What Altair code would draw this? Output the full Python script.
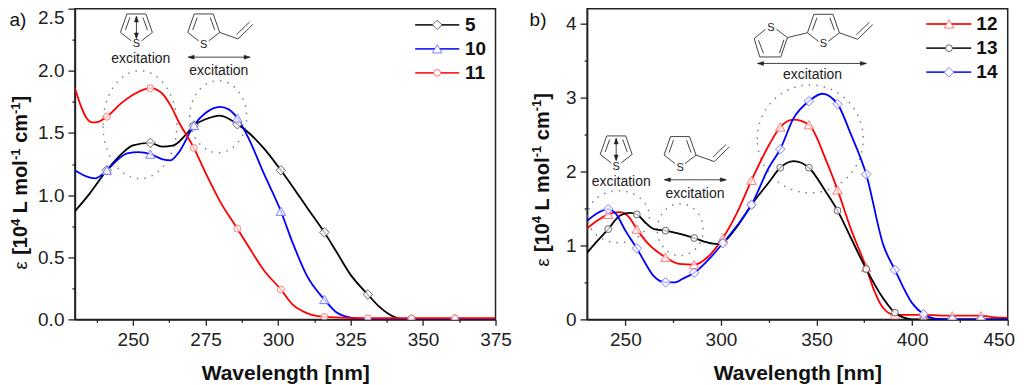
import altair as alt
import pandas as pd

FONT = "Liberation Sans"
INK = "#222222"
STRUCT = "#444444"

# ---------- panel a ----------
a_wl_5 = [230, 235, 241, 246, 250, 256, 260, 264, 268, 271, 275, 280, 286, 290, 295, 301, 305, 310, 316, 320, 325, 331, 335, 340, 343, 346, 361, 375]
a_v_5 = [0.87, 1.01, 1.20, 1.33, 1.40, 1.42, 1.39, 1.40, 1.48, 1.56, 1.61, 1.64, 1.57, 1.50, 1.38, 1.20, 1.07, 0.90, 0.70, 0.55, 0.36, 0.20, 0.10, 0.02, 0.0, 0.0, 0.0, 0.0]
a_wl_10 = [230, 233, 237, 241, 245, 248, 252, 256, 260, 263, 266, 271, 275, 280, 283, 286, 290, 295, 301, 305, 310, 316, 320, 325, 331, 346, 361, 375]
a_v_10 = [1.20, 1.16, 1.135, 1.20, 1.29, 1.335, 1.345, 1.33, 1.29, 1.28, 1.35, 1.56, 1.66, 1.71, 1.69, 1.62, 1.45, 1.18, 0.87, 0.62, 0.35, 0.16, 0.06, 0.015, 0.0, 0.0, 0.0, 0.0]
a_wl_11 = [230, 232, 234, 236, 238, 241, 246, 251, 256, 260, 263, 266, 271, 275, 280, 286, 290, 295, 301, 305, 310, 316, 331, 346, 361, 375]
a_v_11 = [1.86, 1.72, 1.62, 1.585, 1.59, 1.63, 1.74, 1.82, 1.86, 1.82, 1.72, 1.58, 1.38, 1.18, 0.95, 0.73, 0.58, 0.40, 0.24, 0.12, 0.05, 0.02, 0.01, 0.01, 0.01, 0.01]
a_markers = [241, 256, 271, 286, 301, 316, 331, 346, 361]

# ---------- panel b ----------
b_wl_12 = [230, 235, 241, 247, 252, 256, 262, 271, 278, 286, 293, 301, 308, 316, 325, 331, 338, 346, 355, 361, 368, 376, 380, 385, 391, 400, 406, 421, 436, 442, 450]
b_v_12 = [1.23, 1.33, 1.42, 1.45, 1.38, 1.22, 1.02, 0.84, 0.75, 0.74, 0.84, 1.10, 1.42, 1.88, 2.35, 2.60, 2.70, 2.63, 2.15, 1.75, 1.22, 0.70, 0.40, 0.15, 0.06, 0.06, 0.06, 0.05, 0.05, 0.03, 0.02]
b_wl_13 = [230, 235, 241, 247, 252, 256, 260, 265, 271, 278, 286, 293, 298, 301, 308, 316, 325, 331, 338, 346, 355, 361, 368, 376, 385, 391, 395, 400, 406, 421, 436, 450]
b_v_13 = [0.90, 1.05, 1.22, 1.40, 1.44, 1.42, 1.32, 1.22, 1.20, 1.16, 1.10, 1.04, 1.02, 1.04, 1.24, 1.55, 1.85, 2.05, 2.14, 2.05, 1.72, 1.47, 1.10, 0.68, 0.28, 0.09, 0.03, 0.0, 0.0, 0.0, 0.0, 0.0]
b_wl_14 = [230, 235, 241, 245, 250, 256, 260, 265, 271, 276, 280, 286, 295, 301, 310, 316, 325, 331, 338, 346, 353, 361, 368, 376, 385, 391, 400, 406, 412, 421, 436, 450]
b_v_14 = [1.33, 1.43, 1.49, 1.43, 1.20, 0.96, 0.78, 0.58, 0.50, 0.50, 0.55, 0.63, 0.85, 1.03, 1.32, 1.55, 2.05, 2.30, 2.72, 2.95, 3.05, 2.91, 2.50, 1.96, 1.00, 0.67, 0.22, 0.07, 0.01, 0.0, 0.0, 0.0]
b_markers = [241, 256, 271, 286, 301, 316, 331, 346, 361, 376, 391, 406, 421, 436]

LINE = {"black": "#000000", "blue": "#0000ff", "red": "#ff0000"}
EDGE = {"black": "#555555", "blue": "#7070ff", "red": "#ff6a6a"}

# y title pieces: text, pixels along the baseline from the title's start
TITLE_EPS = ("\u03b5", 0)
TITLE_MAIN = [("[10", 14.6), ("L mol", 56.3), ("cm", 126.8), ("]", 167.3)]
TITLE_SUP = [("4", 43.5), ("-1", 109.6), ("-1", 155.7)]

# ---------- structure outlines (pixel offsets from an anchor) ----------
THIOPHENE = ("M-5,11 L-16,2.5 L-9.5,-16 L9.5,-16 L16,2.5 L5,11 "
             "M-11,0 L-6.5,-12.5 M11,0 L6.5,-12.5")
ARROW_V = "M0,-13 L0,8"
ARROW_V_HEADS = "M0,-14 L-2,-8 L2,-8 Z M0,9 L-2,3 L2,3 Z"
VINYL = THIOPHENE + " M16,2.5 L34.3,9 L49.3,-5.7 M33,4.5 L46,-8"
BITHIO = (VINYL + " M-16,2.5 L-36,7.3 L-47,-1 M-58,-1 L-69.3,8.3 L-63.7,26.7 L-42.7,26.7 L-36,7.3 "
          "M-65,10 L-60,23 M-44,23 L-39.5,9.5")


def hline(half):
    return f"M{-half},0 L{half},0"


def hheads(half):
    return (f"M{-half},0 L{-half+6},-2 L{-half+6},2 Z "
            f"M{half},0 L{half-6},-2 L{half-6},2 Z")


def ellipse(rx, ry):
    return f"M{-rx},0 A{rx},{ry} 0 1 1 {rx},0 A{rx},{ry} 0 1 1 {-rx},0"


def panel(xdom, ydom, xvals, xmajor, xlast, yvals, ymajor, yfmt, ytop, series, legend,
          shapes, arrows, dots, texts, letters, tag, title):
    xs = alt.Scale(domain=xdom, nice=False, zero=False)
    ys = alt.Scale(domain=ydom, nice=False, zero=False)

    xaxis = alt.Axis(values=xvals, title="Wavelength [nm]", grid=False,
                     labelExpr=f"datum.value % {xmajor} == 0 ? format(datum.value, 'd') : ''",
                     tickSize={"condition": {"test": f"datum.value % {xmajor} == 0", "value": 6}, "value": 3},
                     labelOffset={"condition": {"test": f"datum.value == {xlast}", "value": -9}, "value": 0},
                     labelFont=FONT, labelFontSize=19, labelColor=INK, labelPadding=5,
                     titleFont=FONT, titleFontSize=21, titleFontWeight="bold", titleColor="#111111",
                     titlePadding=13, tickColor=INK, tickWidth=1.3, domainColor=INK, domainWidth=1.5,
                     labelOverlap=False, labelFlush=False, labelBound=False)
    yaxis = alt.Axis(values=yvals, title=None, grid=False,
                     labelExpr=f"datum.value % {ymajor} == 0 ? format(datum.value, '{yfmt}') : ''",
                     tickSize={"condition": {"test": f"datum.value % {ymajor} == 0", "value": 7}, "value": 3},
                     labelBaseline={"condition": {"test": f"datum.value == {ytop}", "value": "top"}, "value": "middle"},
                     labelFont=FONT, labelFontSize=19, labelColor=INK, labelPadding=4,
                     tickColor=INK, tickWidth=1.3, domainColor=INK, domainWidth=1.5,
                     labelOverlap=False, labelFlush=False, labelBound=False)

    def X():
        return alt.X("x:Q", scale=xs, axis=xaxis)

    def Y():
        return alt.Y("y:Q", scale=ys, axis=yaxis)

    layers = []
    for (cx, cy, rx, ry) in dots:
        layers.append(alt.Chart(pd.DataFrame({"x": [cx], "y": [cy]})).mark_point(
            shape=ellipse(rx, ry), size=4, filled=False, stroke="#808080", strokeWidth=1.5,
            strokeDash=[1.5, 6], opacity=1).encode(x=X(), y=Y()))
    for s in series:
        df = pd.DataFrame({"x": s["wl"], "y": s["v"]})
        layers.append(alt.Chart(df).mark_line(interpolate="monotone", clip=True, color=LINE[s["c"]],
                                              strokeWidth=1.8).encode(x=X(), y=Y()))
    for s in series:
        lookup = dict(zip(s["wl"], s["v"]))
        dm = pd.DataFrame({"x": s["m"], "y": [lookup[w] for w in s["m"]]})
        layers.append(alt.Chart(dm).mark_point(shape=s["shape"], size=s["size"], filled=False, clip=True,
                                               fill="#ffffff", fillOpacity=0.75, stroke=EDGE[s["c"]],
                                               strokeWidth=0.9, opacity=1).encode(x=X(), y=Y()))
    for (x1, x2, xm, xt, yy, s) in legend:
        dl = pd.DataFrame({"x": [x1, x2], "y": [yy, yy]})
        layers.append(alt.Chart(dl).mark_line(color=LINE[s["c"]], strokeWidth=1.8, opacity=0.85).encode(x=X(), y=Y()))
        layers.append(alt.Chart(pd.DataFrame({"x": [xm], "y": [yy]})).mark_point(
            shape=s["shape"], size=s["size"], filled=False, fill="#ffffff", fillOpacity=1,
            stroke=EDGE[s["c"]], strokeWidth=0.9, opacity=1).encode(x=X(), y=Y()))
        layers.append(alt.Chart(pd.DataFrame({"x": [xt], "y": [yy], "t": [s["name"]]})).mark_text(
            align="left", baseline="middle", font=FONT, fontSize=19, fontWeight="bold", color="#111111"
        ).encode(x=X(), y=Y(), text="t:N"))
    for (x0, y0, path) in shapes:
        layers.append(alt.Chart(pd.DataFrame({"x": [x0], "y": [y0]})).mark_point(
            shape=path, size=4, filled=False, stroke=STRUCT, strokeWidth=1, opacity=1).encode(x=X(), y=Y()))
    for (x0, y0, path) in arrows:
        layers.append(alt.Chart(pd.DataFrame({"x": [x0], "y": [y0]})).mark_point(
            shape=path, size=4, filled=True, fill="#222222", stroke="#222222", strokeWidth=0.5, opacity=1
        ).encode(x=X(), y=Y()))
    dt = pd.DataFrame(texts, columns=["x", "y", "t"])
    layers.append(alt.Chart(dt).mark_text(font=FONT, fontSize=14, color="#222222", baseline="middle",
                                          align="center").encode(x=X(), y=Y(), text="t:N"))
    dS = pd.DataFrame(letters, columns=["x", "y", "t"])
    layers.append(alt.Chart(dS).mark_text(font=FONT, fontSize=11, color="#222222", baseline="middle",
                                          align="center").encode(x=X(), y=Y(), text="t:N"))
    layers.append(alt.Chart(pd.DataFrame([tag], columns=["x", "y", "t"])).mark_text(
        font=FONT, fontSize=19, color="#111111", baseline="top", align="left").encode(x=X(), y=Y(), text="t:N"))
    # y title built from pieces so the exponents are real raised text
    bx, sx, y0, per_px = title
    eps = pd.DataFrame([{"x": bx, "y": y0, "t": TITLE_EPS[0]}])
    main = pd.DataFrame([{"x": bx, "y": y0 + o / per_px, "t": t} for t, o in TITLE_MAIN])
    sup = pd.DataFrame([{"x": sx, "y": y0 + o / per_px, "t": t} for t, o in TITLE_SUP])
    layers.append(alt.Chart(eps).mark_text(font=FONT, fontSize=18, color="#111111", baseline="alphabetic",
                                           align="left", angle=270).encode(x=X(), y=Y(), text="t:N"))
    layers.append(alt.Chart(main).mark_text(font=FONT, fontSize=20, fontWeight="bold", color="#111111",
                                            baseline="alphabetic", align="left", angle=270
                                            ).encode(x=X(), y=Y(), text="t:N"))
    layers.append(alt.Chart(sup).mark_text(font=FONT, fontSize=13, fontWeight="bold", color="#111111",
                                           baseline="alphabetic", align="left", angle=270
                                           ).encode(x=X(), y=Y(), text="t:N"))
    return alt.layer(*layers).properties(width=421, height=311)


s5 = dict(wl=a_wl_5, v=a_v_5, m=a_markers, c="black", shape="diamond", size=90, name="5")
s10 = dict(wl=a_wl_10, v=a_v_10, m=a_markers, c="blue", shape="triangle-up", size=90, name="10")
s11 = dict(wl=a_wl_11, v=a_v_11, m=a_markers, c="red", shape="circle", size=46, name="11")

s12 = dict(wl=b_wl_12, v=b_v_12, m=b_markers, c="red", shape="triangle-up", size=90, name="12")
s13 = dict(wl=b_wl_13, v=b_v_13, m=b_markers, c="black", shape="circle", size=46, name="13")
s14 = dict(wl=b_wl_14, v=b_v_14, m=b_markers, c="blue", shape="diamond", size=90, name="14")

left = panel(
    [230, 375], [0, 2.5],
    [237.5, 250, 262.5, 275, 287.5, 300, 312.5, 325, 337.5, 350, 362.5, 375], 25, 9999,
    [0, 0.25, 0.5, 0.75, 1, 1.25, 1.5, 1.75, 2, 2.25, 2.5], 0.5, ".1f", 2.5,
    [s5, s10, s11],
    [(347.3, 362.5, 354.9, 364.5, 2.37, s5),
     (347.3, 362.5, 354.9, 364.5, 2.177, s10),
     (347.3, 362.5, 354.9, 364.5, 1.984, s11)],
    [(251.2, 2.329, THIOPHENE), (251.2, 2.329, ARROW_V), (274.4, 2.329, VINYL), (279.7, 2.110, hline(31))],
    [(251.2, 2.329, ARROW_V_HEADS), (279.7, 2.110, hheads(31))],
    [(252.4, 1.566, 37, 54), (279.4, 1.631, 28.5, 36)],
    [(252.7, 2.098, "excitation"), (279.6, 2.002, "excitation")],
    [(251.2, 2.214, "S"), (274.4, 2.208, "S")],
    (207.4, 2.48, "a)"),
    (213.5, 211.0, 0.402, 124.5),
)

right = panel(
    [230, 450], [0, 4.2],
    [250, 275, 300, 325, 350, 375, 400, 425, 450], 50, 450,
    [0, 0.5, 1, 1.5, 2, 2.5, 3, 3.5, 4], 1, "d", 99,
    [s12, s13, s14],
    [(407.4, 430.9, 419.3, 433.6, 3.993, s12),
     (407.4, 430.9, 419.3, 433.6, 3.666, s13),
     (407.4, 430.9, 419.3, 433.6, 3.342, s14)],
    [(245.2, 2.264, THIOPHENE), (245.2, 2.264, ARROW_V), (278.6, 2.255, VINYL), (286.6, 1.887, hline(31)),
     (353.6, 3.908, BITHIO), (347.6, 3.460, hline(54.5))],
    [(245.2, 2.264, ARROW_V_HEADS), (286.6, 1.887, hheads(31)), (347.6, 3.460, hheads(54.5))],
    [(346.7, 2.439, 53, 54), (246.4, 1.388, 31, 26), (278.7, 1.213, 23, 26)],
    [(247.8, 1.855, "excitation"), (286.4, 1.698, "excitation"), (347.9, 3.306, "excitation")],
    [(245.2, 2.06, "S"), (278.6, 2.045, "S"), (326.1, 3.945, "S"), (353.6, 3.716, "S")],
    (199.9, 4.17, "b)"),
    (210.3, 206.1, 0.714, 74.2),
)

chart = alt.hconcat(left, right, spacing=91.7, bounds="flush").properties(
    padding={"left": 0, "top": -1.5, "right": 0, "bottom": 0}, background="white"
).configure_view(stroke="#222222", strokeWidth=1.5)

chart.save("out.html", embed_options={"renderer": "svg", "actions": False})
